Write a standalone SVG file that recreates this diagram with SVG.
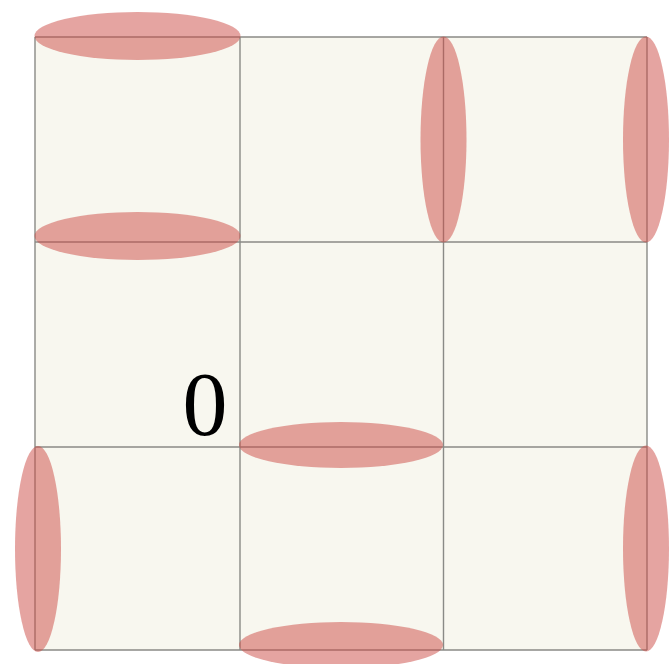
<svg xmlns="http://www.w3.org/2000/svg" width="670" height="664" viewBox="0 0 670 664">
<style>
.cell{fill:#f8f7ef;stroke:none}
.grid{stroke:#8a8a86;stroke-width:1.4;fill:none}
.blob{fill:#cc4a44;fill-opacity:0.5}
.lbl{font-family:"Liberation Serif","Times New Roman",serif;font-size:90px;fill:#000}
</style>
<rect width="670" height="664" fill="#ffffff"/>
<g id="cells">
<rect class="cell" x="35" y="37" width="612" height="613"/>
</g>
<g id="grid">
<path class="grid" d="M35 37V650M240 37V650M443.5 37V650M647 37V650M35 37H647M35 242H647M35 447H647M35 650H647"/>
</g>
<g id="blobs">
<ellipse class="blob" cx="137.5" cy="36" rx="103" ry="24"/>
<ellipse class="blob" cx="137.5" cy="236" rx="103" ry="24"/>
<ellipse class="blob" cx="443.5" cy="139.5" rx="23" ry="103"/>
<ellipse class="blob" cx="646" cy="139.5" rx="23" ry="103"/>
<ellipse class="blob" cx="341" cy="445" rx="102" ry="23"/>
<ellipse class="blob" cx="341" cy="645" rx="102" ry="23"/>
<ellipse class="blob" cx="38" cy="549" rx="23" ry="103"/>
<ellipse class="blob" cx="646" cy="548.5" rx="23" ry="103"/>
</g>
<g id="label">
<text class="lbl" x="205" y="435" text-anchor="middle">0</text>
</g>
</svg>
